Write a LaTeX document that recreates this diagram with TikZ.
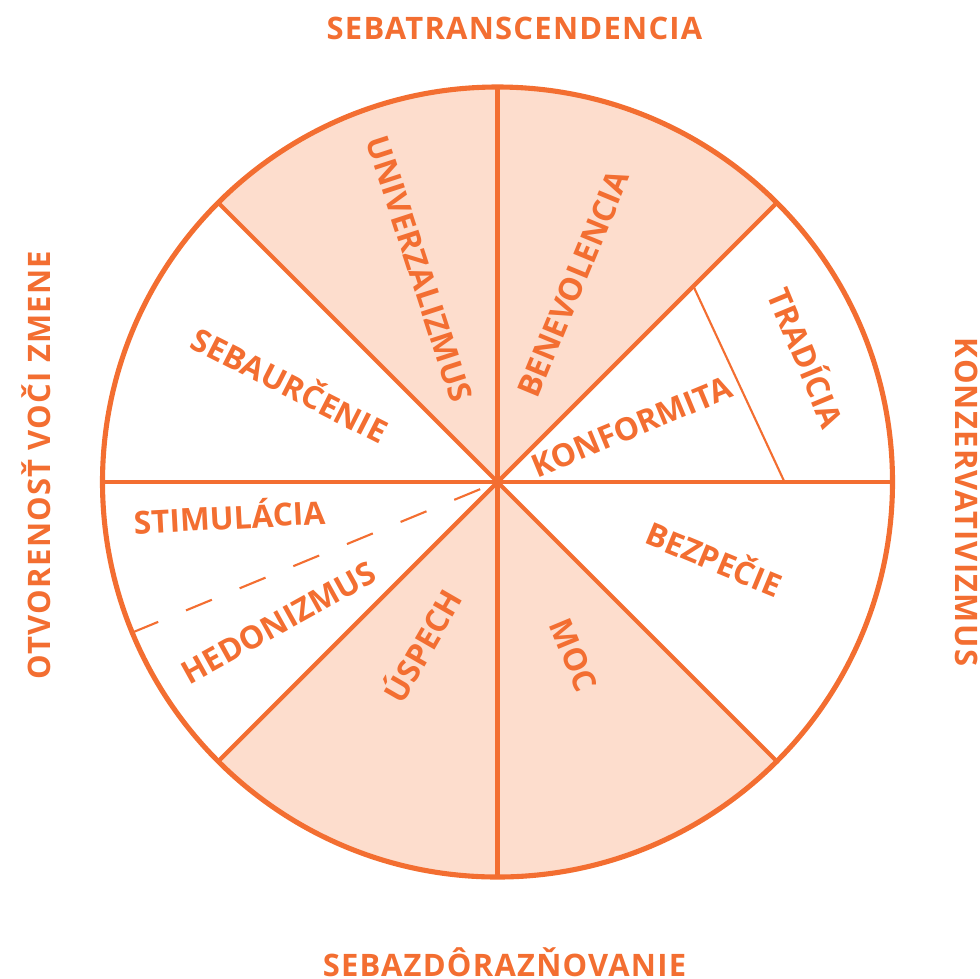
\documentclass[tikz,border=0pt]{standalone}
\usepackage{fontspec}
\setmainfont{Open Sans}
\newfontfamily\polefont[LetterSpace=4]{Open Sans}
\usepackage{tikz}
\usetikzlibrary{calc}
\usetikzlibrary{positioning}

\definecolor{wheelline}{RGB}{243,110,49}
\definecolor{wheelfill}{RGB}{253,221,205}

\tikzset{
  value/.style={text=wheelline,inner sep=0pt,text height=6.4pt,text depth=0pt,font=\bfseries\fontsize{9}{9}\selectfont},
  pole/.style={text=wheelline,inner sep=0pt,text height=6.3pt,text depth=0pt,font=\polefont\bfseries\fontsize{8.8}{8.8}\selectfont},
  spoke/.style={draw=wheelline,line width=1.2pt},
  rim/.style={draw=wheelline,line width=1.45pt},
  split/.style={draw=wheelline,line width=0.6pt},
}

\begin{document}
\begin{tikzpicture}[x=0.01cm,y=0.01cm]
\useasboundingbox (-497.5,-496) rectangle (482.5,482);

\coordinate (o) at (0,0);

% shaded quarters
\fill[wheelfill] (o) -- (45:395) arc (45:135:395) -- cycle;
\fill[wheelfill] (o) -- (225:395) arc (225:315:395) -- cycle;

\foreach \a in {0,45,...,315}
  \draw[spoke] (o) -- (\a:395);
\draw[rim] (o) circle (395);

\draw[split] (45:277) -- (0:287);
\draw[split,dash pattern=on 0.28cm off 0.3cm] (202.4:395) -- (o);

\node[value,rotate=-72] (univ) at (-78,213) {UNIVERZALIZMUS};
\node[value,rotate=67.5] (bene) at (76,198) {BENEVOLENCIA};
\node[value,rotate=22.5] (konf) at (134,55) {KONFORMITA};
\node[value,rotate=-67.5] (trad) at (308,124) {TRADÍCIA};
\node[value,rotate=-22.5] (bezp) at (216,-78) {BEZPEČIE};
\node[value,rotate=-67.5] (moc) at (76,-173) {MOC};
\node[value,rotate=60] (usp) at (-74,-164) {ÚSPECH};
\node[value,rotate=29] (hedo) at (-219,-141) {HEDONIZMUS};
\node[value,rotate=3] (stim) at (-268,-36) {STIMULÁCIA};
\node[value,rotate=-27] (seba) at (-208,96) {SEBAURČENIE};

\node[pole] (trans) at (17,454) {SEBATRANSCENDENCIA};
\node[pole] (zdor) at (7,-483) {SEBAZDÔRAZŇOVANIE};
\node[pole,rotate=90] (otv) at (-458,17) {OTVORENOSŤ VOČI ZMENE};
\node[pole,rotate=-90] (konz) at (469,-20) {KONZERVATIVIZMUS};
\end{tikzpicture}
\end{document}
